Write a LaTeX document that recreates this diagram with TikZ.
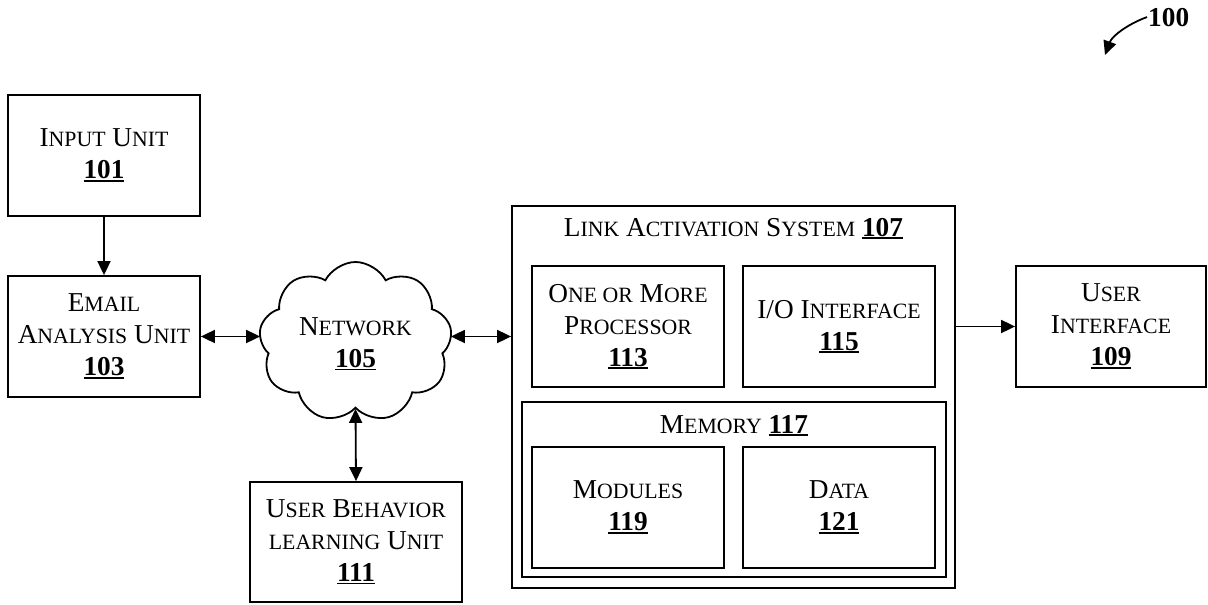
\documentclass[tikz,border=0pt]{standalone}
\usepackage{fontspec}
\setmainfont{Liberation Serif}
\usetikzlibrary{shapes.symbols,arrows.meta,calc}
\newcommand\Sc[1]{{\fontsize{21.8}{32}\selectfont\uppercase{#1}}}
\newcommand\Nm[1]{\setbox0\hbox{\bfseries #1}\rlap{\rule[-3pt]{\wd0}{1.9pt}}\box0}
\begin{document}
\begin{tikzpicture}[x=1pt,y=-1pt,
  lbl/.style={font=\fontsize{27.3}{32}\selectfont, inner sep=0pt, align=center},
  box/.style={lbl, draw, line width=1.8pt, rectangle},
  tipa/.tip={Triangle[length=14pt,width=13pt]},
  arr/.style={line width=1.8pt, -tipa},
  darr/.style={line width=1.8pt, tipa-tipa}]
\useasboundingbox (0,0) rectangle (1208,605);

\node[box, minimum width=192pt, minimum height=121pt] (b101) at (104,155.5) {I\Sc{nput} U\Sc{nit}\\\Nm{101}};
\node[box, minimum width=192pt, minimum height=121pt] (b103) at (104,336.5) {E\Sc{mail}\\A\Sc{nalysis} U\Sc{nit}\\\Nm{103}};
\node[cloud, draw, line width=1.8pt, cloud puffs=9, cloud puff arc=125, minimum width=193pt, minimum height=160pt, inner sep=0pt] (net) at (355.5,342) {};
\node[lbl] (t105) at (355.5,344) {N\Sc{etwork}\\\Nm{105}};
\node[box, minimum width=212pt, minimum height=120pt] (b111) at (356,542) {U\Sc{ser} B\Sc{ehavior}\\\Sc{learning} U\Sc{nit}\\\Nm{111}};

\node[box, minimum width=443pt, minimum height=382pt] (b107) at (733.5,397) {};
\node[lbl, anchor=base] (t107) at (733.5,236) {L\Sc{ink} A\Sc{ctivation} S\Sc{ystem} \Nm{107}};
\node[box, minimum width=192pt, minimum height=121pt] (b113) at (628,326.5) {O\Sc{ne or} M\Sc{ore}\\P\Sc{rocessor}\\\Nm{113}};
\node[box, minimum width=192pt, minimum height=121pt] (b115) at (839,326.5) {I/O I\Sc{nterface}\\\Nm{115}};
\node[box, minimum width=424pt, minimum height=175pt] (b117) at (734,489.5) {};
\node[lbl, anchor=base] (t117) at (734,433) {M\Sc{emory} \Nm{117}};
\node[box, minimum width=192pt, minimum height=121pt] (b119) at (628,507.5) {M\Sc{odules}\\\Nm{119}};
\node[box, minimum width=192pt, minimum height=121pt] (b121) at (839,507.5) {D\Sc{ata}\\\Nm{121}};

\node[box, minimum width=190pt, minimum height=121pt] (b109) at (1111,326.5) {U\Sc{ser}\\I\Sc{nterface}\\\Nm{109}};

\node[lbl, font=\bfseries\fontsize{27.3}{32}\selectfont, anchor=base west, inner sep=1pt] (l100) at (1147,26) {100};
\coordinate (tip100) at (1105,55);

\draw[arr] (b101.south) -- (b103.north);
\draw[darr] (b103.east) -- (b103.east -| net.west);
\draw[darr] (net.east |- b103.east) -- (b107.west |- b103.east);
\draw[darr] (net.south) -- (b111.north);
\draw[arr] (b107.east |- b109.west) -- (b109.west);
\draw[line width=1.8pt, -{Triangle[length=14pt,width=13pt]}] (l100.west) .. controls (1128,24) and (1112,36) .. (tip100);
\end{tikzpicture}
\end{document}
